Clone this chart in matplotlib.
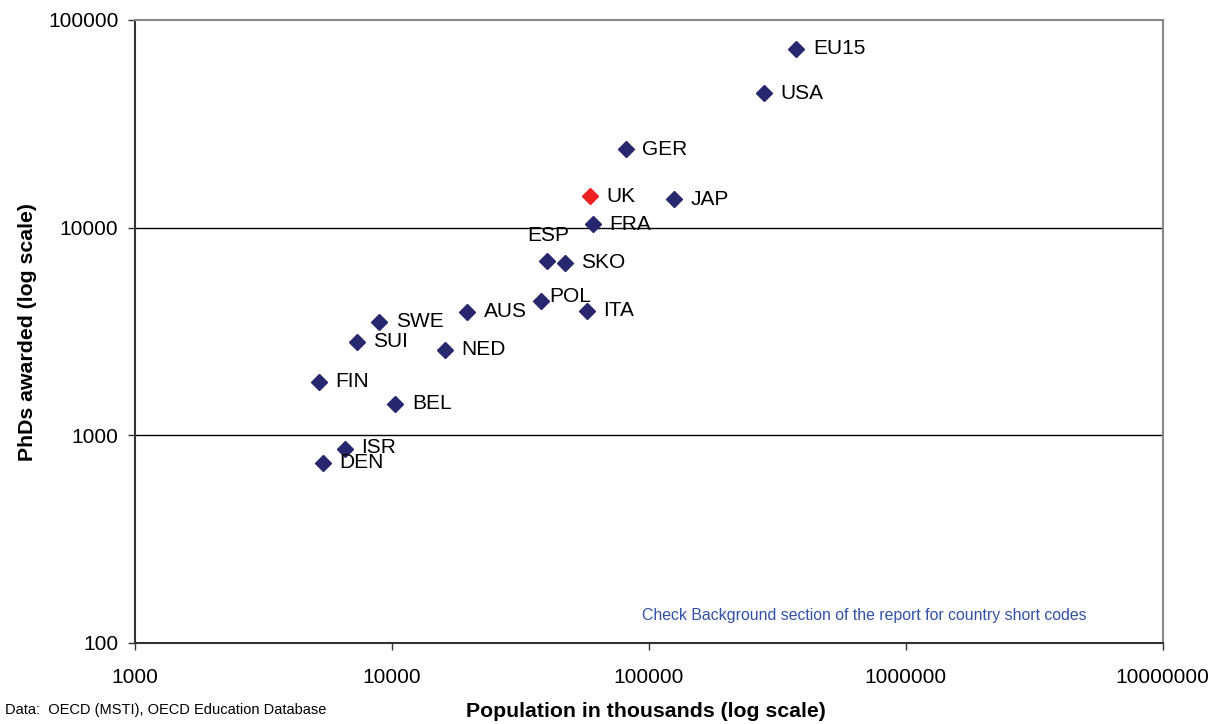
import numpy as np
import matplotlib.pyplot as plt
from matplotlib.ticker import FixedLocator, FixedFormatter, NullLocator

plt.rcParams['font.family'] = ['Liberation Sans', 'DejaVu Sans']

# population (thousands) and PhDs awarded per year
countries = ["EU15", "USA", "GER", "UK", "JAP", "FRA", "ESP", "SKO", "POL", "ITA",
             "AUS", "SWE", "SUI", "NED", "FIN", "BEL", "ISR", "DEN"]
population = [375000, 281000, 81300, 58800, 125000, 60400, 40000, 47000, 37900, 57300,
              19600, 8900, 7300, 16100, 5190, 10300, 6550, 5380]
phds = [72500, 44500, 23900, 14200, 13700, 10400, 6910, 6760, 4440, 3970,
        3930, 3520, 2820, 2580, 1810, 1420, 860, 736]

highlight = "UK"
navy = "#27276f"
red = "#ee2020"

fig = plt.figure(figsize=(12.08, 7.24), dpi=100)
ax = fig.add_axes([0.1118, 0.1119, 0.8506, 0.8605])
ax.set_xscale("log")
ax.set_yscale("log")
ax.set_xlim(1000, 1e7)
ax.set_ylim(100, 1e5)

for name, x, y in zip(countries, population, phds):
    col = red if name == highlight else navy
    ax.plot(x, y, marker="D", ms=8, color=col, mec=col, ls="none", zorder=3)
    # label placement: most to the right, a few nudged
    if name == "ESP":
        ax.annotate(name, (x, y), xytext=(1, 18), textcoords="offset points",
                    ha="center", va="center", fontsize=15)
    elif name == "POL":
        ax.annotate(name, (x, y), xytext=(6, 3), textcoords="offset points",
                    ha="left", va="center", fontsize=15)
    elif name == "ISR":
        ax.annotate(name, (x, y), xytext=(12, 1), textcoords="offset points",
                    ha="left", va="center", fontsize=15)
    else:
        ax.annotate(name, (x, y), xytext=(12, 0), textcoords="offset points",
                    ha="left", va="center", fontsize=15)

xt = [1000, 10000, 100000, 1000000, 10000000]
yt = [100, 1000, 10000, 100000]
ax.xaxis.set_major_locator(FixedLocator(xt))
ax.xaxis.set_major_formatter(FixedFormatter([str(v) for v in xt]))
ax.xaxis.set_minor_locator(NullLocator())
ax.yaxis.set_major_locator(FixedLocator(yt))
ax.yaxis.set_major_formatter(FixedFormatter([str(v) for v in yt]))
ax.yaxis.set_minor_locator(NullLocator())
ax.tick_params(axis="both", direction="out", length=5, width=1, color="#333333",
               labelsize=15)
ax.tick_params(axis="y", pad=7)
ax.tick_params(axis="x", pad=13)

for v in [1000, 10000]:
    ax.axhline(v, color="black", lw=1, zorder=1)

for s in ["top", "right"]:
    ax.spines[s].set_color("#888888")
    ax.spines[s].set_linewidth(1.5)
for s in ["left", "bottom"]:
    ax.spines[s].set_color("#333333")
    ax.spines[s].set_linewidth(1.5)

ax.text(0.7097, 0.0436, "Check Background section of the report for country short codes",
        transform=ax.transAxes, ha="center", va="center", fontsize=11.4, color="#3352a8")

fig.text(0.535, 0.0166, "Population in thousands (log scale)", ha="center", va="center",
         fontsize=15.3, fontweight="bold")
fig.text(0.0224, 0.541, "PhDs awarded (log scale)", ha="center", va="center",
         rotation=90, fontsize=15.3, fontweight="bold")
fig.text(0.004, 0.0193, "Data:  OECD (MSTI), OECD Education Database", ha="left",
         va="center", fontsize=10.5)

fig.savefig("out.png", dpi=100)
